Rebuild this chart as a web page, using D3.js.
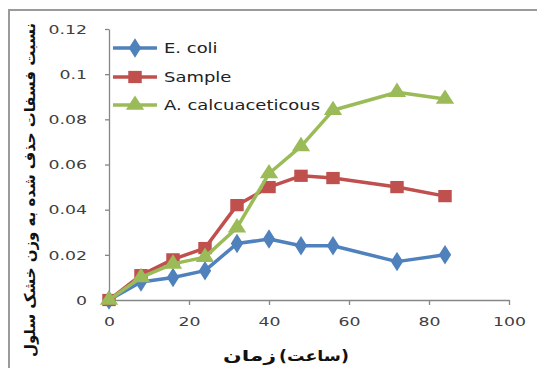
<!DOCTYPE html>
<html>
<head>
<meta charset="utf-8">
<script src="https://cdn.jsdelivr.net/npm/d3@7"></script>
<style>
html,body{margin:0;padding:0;background:#fff;}
svg{display:block;}
</style>
</head>
<body>
<script>
const hours = [0, 8, 16, 24, 32, 40, 48, 56, 72, 84];
const ecoli = [0, 0.008, 0.010, 0.013, 0.025, 0.027, 0.024, 0.024, 0.017, 0.020];
const sample = [0, 0.011, 0.018, 0.023, 0.042, 0.050, 0.055, 0.054, 0.050, 0.046];
const acinet = [0, 0.010, 0.016, 0.019, 0.032, 0.056, 0.068, 0.084, 0.092, 0.089];
const seriesNames = ["E. coli", "Sample", "A. calcuaceticous"];
const xTicks = [0, 20, 40, 60, 80, 100];
const yTicks = [0, 0.02, 0.04, 0.06, 0.08, 0.1, 0.12];
const xTitleWords = ["زمان", "(ساعت)"];
const yTitle = "نسبت فسفات حذف شده به وزن خشک سلول";

const W = 537, H = 368;
const colors = ["#4F81BD", "#C0504D", "#9BBB59"];
const shapes = [d3.symbolDiamond, d3.symbolSquare, d3.symbolTriangle];
const STRETCH = 1.33;

const svg = d3.select("body").append("svg").attr("width", W).attr("height", H);

// outer frame (top and left visible)
svg.append("path").attr("d", "M9,368V10H537").attr("fill", "none")
  .attr("stroke", "#9a9a9a").attr("stroke-width", 2);

const x = d3.scaleLinear().domain([0, 100]).range([109, 509]);
const y = d3.scaleLinear().domain([0, 0.12]).range([300, 29]);

function stretch(sel) {
  sel.each(function() {
    const l = this.getComputedTextLength();
    d3.select(this).attr("textLength", l * STRETCH).attr("lengthAdjust", "spacingAndGlyphs");
  });
}

const fmt = d => d === 0 ? "0" : String(+d.toFixed(2));

const xAxis = svg.append("g").attr("transform", "translate(0,300)")
  .call(d3.axisBottom(x).tickValues(xTicks).tickSize(5).tickSizeOuter(0).tickPadding(12).tickFormat(fmt));
const yAxis = svg.append("g").attr("transform", "translate(109,0)")
  .call(d3.axisLeft(y).tickValues(yTicks).tickSize(4).tickSizeOuter(0).tickPadding(18).tickFormat(fmt));

[xAxis, yAxis].forEach(a => {
  a.select(".domain").attr("stroke", "#868686").attr("stroke-width", 1.3);
  a.selectAll(".tick line").attr("stroke", "#868686").attr("stroke-width", 1.3);
  a.selectAll(".tick text").attr("fill", "#404040")
    .style("font-family", "DejaVu Sans").style("font-size", "13px");
});
stretch(xAxis.selectAll(".tick text"));
stretch(yAxis.selectAll(".tick text"));

const allSeries = [ecoli, sample, acinet];
const line = d3.line().x((d, i) => x(hours[i])).y(d => y(d));
const sizes = [110, 150, 120];

allSeries.forEach((vals, s) => {
  const g = svg.append("g");
  g.append("path").datum(vals).attr("d", line).attr("fill", "none")
    .attr("stroke", colors[s]).attr("stroke-width", 3.5).attr("stroke-linejoin", "round");
  g.selectAll("path.m").data(vals).enter().append("path").attr("class", "m")
    .attr("d", d3.symbol().type(shapes[s]).size(sizes[s]))
    .attr("transform", (d, i) => `translate(${x(hours[i])},${y(d)}) scale(1.1,1)`)
    .attr("fill", colors[s]);
});

// legend
const legY = [48, 77, 105];
seriesNames.forEach((n, s) => {
  const g = svg.append("g");
  g.append("line").attr("x1", 113).attr("x2", 157).attr("y1", legY[s]).attr("y2", legY[s])
    .attr("stroke", colors[s]).attr("stroke-width", 3.5);
  g.append("path").attr("d", d3.symbol().type(shapes[s]).size(sizes[s]))
    .attr("transform", `translate(135,${legY[s]}) scale(1.1,1)`).attr("fill", colors[s]);
  const t = g.append("text").attr("x", 164).attr("y", legY[s]).attr("dy", "0.36em")
    .attr("fill", "#222").style("font-family", "DejaVu Sans").style("font-size", "13.5px").text(n);
  stretch(t);
});

// axis titles
const titleStyle = sel => sel.style("font-family", "DejaVu Sans").style("font-weight", "bold")
  .style("font-size", "15px").attr("fill", "#111").attr("lengthAdjust", "spacingAndGlyphs");
svg.append("text").attr("x", 276).attr("y", 361).attr("text-anchor", "end")
  .attr("textLength", 53).call(titleStyle).text(xTitleWords[0]);
svg.append("text").attr("x", 279).attr("y", 361).attr("text-anchor", "start")
  .attr("textLength", 70).call(titleStyle).text(xTitleWords[1]);

svg.append("text").attr("transform", "translate(35,190) rotate(-90)")
  .attr("text-anchor", "middle").attr("textLength", 334).call(titleStyle)
  .text(yTitle);
</script>
</body>
</html>
